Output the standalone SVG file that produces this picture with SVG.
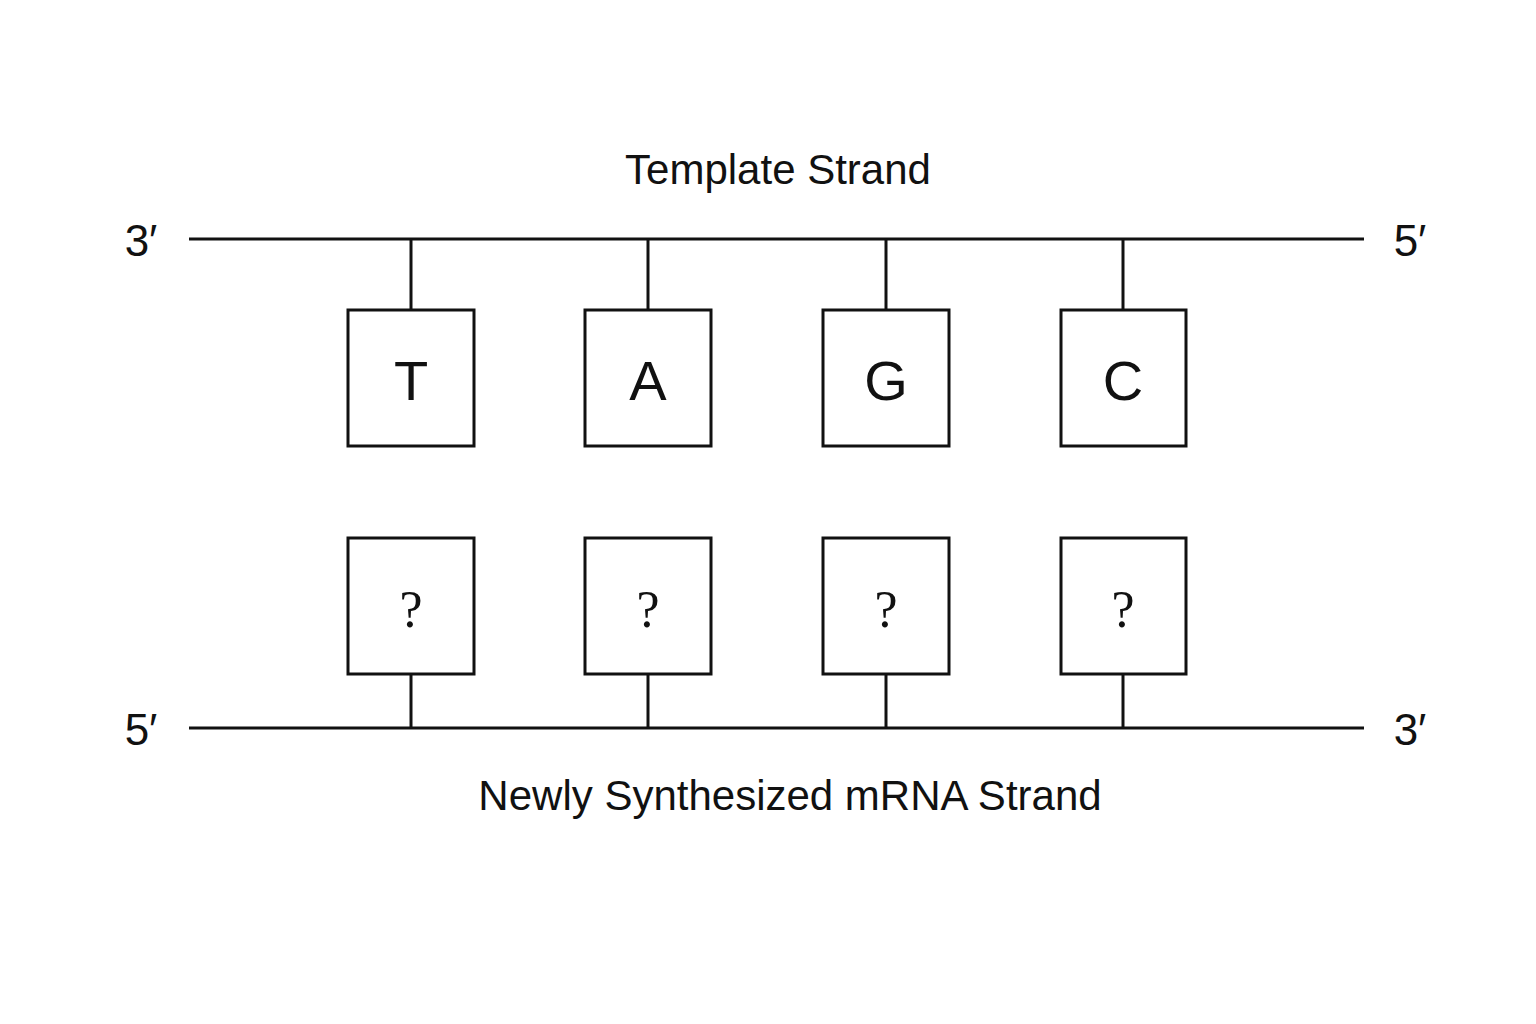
<svg xmlns="http://www.w3.org/2000/svg" width="1536" height="1024" viewBox="0 0 1536 1024">
<style>
.ln{stroke:#111;stroke-width:3;fill:none}
.bx{stroke:#111;stroke-width:3;fill:#fff}
.t{font-family:"Liberation Sans",Arial,sans-serif;fill:#111;text-anchor:middle}
.q{font-family:"Liberation Serif","Times New Roman",serif;fill:#111;text-anchor:middle;font-size:52px}
</style>
<rect width="1536" height="1024" fill="#fff"/>
<g id="connectors">
<line class="ln" x1="189" y1="239" x2="1364" y2="239"/>
<line class="ln" x1="189" y1="728" x2="1364" y2="728"/>
<line class="ln" x1="411" y1="239" x2="411" y2="310"/>
<line class="ln" x1="648" y1="239" x2="648" y2="310"/>
<line class="ln" x1="886" y1="239" x2="886" y2="310"/>
<line class="ln" x1="1123" y1="239" x2="1123" y2="310"/>
<line class="ln" x1="411" y1="674" x2="411" y2="728"/>
<line class="ln" x1="648" y1="674" x2="648" y2="728"/>
<line class="ln" x1="886" y1="674" x2="886" y2="728"/>
<line class="ln" x1="1123" y1="674" x2="1123" y2="728"/>
</g>
<g id="labels">
<text class="t" x="778" y="184" font-size="42">Template Strand</text>
<text class="t" x="790" y="810" font-size="42">Newly Synthesized mRNA Strand</text>
<text class="t" x="141" y="256" font-size="44">3′</text>
<text class="t" x="1410" y="256" font-size="44">5′</text>
<text class="t" x="141" y="745" font-size="44">5′</text>
<text class="t" x="1410" y="745" font-size="44">3′</text>
</g>
<g id="T"><rect class="bx" x="348" y="310" width="126" height="136"/><text class="t" x="411" y="400" font-size="56">T</text></g>
<g id="A"><rect class="bx" x="585" y="310" width="126" height="136"/><text class="t" x="648" y="400" font-size="56">A</text></g>
<g id="G"><rect class="bx" x="823" y="310" width="126" height="136"/><text class="t" x="886" y="400" font-size="56">G</text></g>
<g id="C"><rect class="bx" x="1061" y="310" width="125" height="136"/><text class="t" x="1123" y="400" font-size="56">C</text></g>
<g id="q1"><rect class="bx" x="348" y="538" width="126" height="136"/><text class="q" x="411" y="627">?</text></g>
<g id="q2"><rect class="bx" x="585" y="538" width="126" height="136"/><text class="q" x="648" y="627">?</text></g>
<g id="q3"><rect class="bx" x="823" y="538" width="126" height="136"/><text class="q" x="886" y="627">?</text></g>
<g id="q4"><rect class="bx" x="1061" y="538" width="125" height="136"/><text class="q" x="1123" y="627">?</text></g>
</svg>
